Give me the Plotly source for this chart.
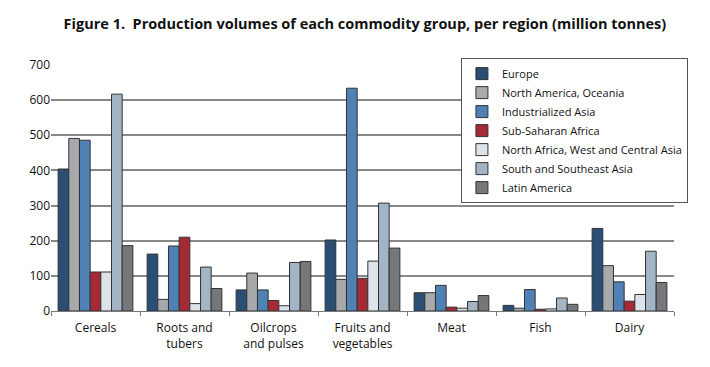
import plotly.graph_objects as go

categories = ["Cereals", "Roots and<br>tubers", "Oilcrops<br>and pulses", "Fruits and<br>vegetables", "Meat", "Fish", "Dairy"]
regions = ["Europe", "North America, Oceania", "Industrialized Asia", "Sub-Saharan Africa",
           "North Africa, West and Central Asia", "South and Southeast Asia", "Latin America"]

europe = [404, 162, 60, 202, 52, 16, 235]
north_america_oceania = [491, 33, 108, 90, 52, 8, 129]
industrialized_asia = [486, 185, 60, 634, 73, 61, 83]
sub_saharan_africa = [111, 210, 30, 93, 11, 5, 28]
north_africa_wc_asia = [111, 21, 15, 142, 8, 6, 47]
south_se_asia = [617, 125, 138, 307, 27, 37, 170]
latin_america = [186, 64, 141, 179, 44, 19, 81]

series = [europe, north_america_oceania, industrialized_asia, sub_saharan_africa,
          north_africa_wc_asia, south_se_asia, latin_america]
colors = ["#2b4f74", "#a7a9ac", "#4f81b5", "#a52a36", "#dde3e8", "#a3b5c4", "#76777a"]

fig = go.Figure()
for name, vals, col in zip(regions, series, colors):
    fig.add_trace(go.Bar(x=categories, y=vals, name=name,
                         marker=dict(color=col, line=dict(color="#333333", width=1))))

fig.update_layout(
    width=710, height=367,
    margin=dict(l=51, r=36, t=65, b=56),
    paper_bgcolor="white", plot_bgcolor="white",
    barmode="group", bargap=0.16, bargroupgap=0,
    font=dict(family="Open Sans, DejaVu Sans, sans-serif", color="#111111", size=12),
    title=dict(text="<b>Figure 1.  Production volumes of each commodity group, per region (million tonnes)</b>",
               x=0.514, xanchor="center", y=0.935, yanchor="middle",
               font=dict(size=14.5, color="#111111")),
    legend=dict(x=0.658, y=1.028, xanchor="left", yanchor="top",
                bgcolor="white", bordercolor="#555555", borderwidth=1,
                font=dict(size=11), tracegroupgap=0, itemwidth=30),
    showlegend=True,
)
fig.update_xaxes(type="category", tickson="boundaries", ticks="outside", ticklen=4,
                 tickcolor="#777777", showline=True, linecolor="#777777", linewidth=1,
                 showgrid=False, tickfont=dict(size=12), ticklabelstandoff=6)
fig.update_yaxes(range=[0, 700], dtick=100, showgrid=True, gridcolor="#888888", gridwidth=1.5,
                 showline=False, zeroline=False, ticks="", tickfont=dict(size=12))

fig.write_html("out.html", config={"displayModeBar": False},
               post_script="document.body.style.margin='0';")
